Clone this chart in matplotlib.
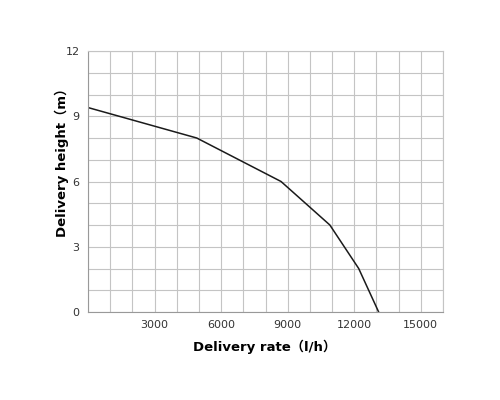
import matplotlib
matplotlib.use("Agg")
import matplotlib.pyplot as plt
from matplotlib.ticker import MultipleLocator

flow = [0, 4900, 8700, 10900, 12200, 13100]
height = [9.4, 8.0, 6.0, 4.0, 2.0, 0.0]
xticks = [3000, 6000, 9000, 12000, 15000]
yticks = [0, 3, 6, 9, 12]

fig = plt.figure(figsize=(5, 4), dpi=100)
ax = fig.add_axes([0.176, 0.22, 0.71, 0.6525])
ax.set_xlim(0, 16000)
ax.set_ylim(0, 12)
ax.xaxis.set_minor_locator(MultipleLocator(1000))
ax.yaxis.set_minor_locator(MultipleLocator(1))
ax.set_xticks(xticks)
ax.set_yticks(yticks)
ax.grid(True, which='both', color='#c4c4c4', linewidth=0.8)
ax.set_axisbelow(True)
ax.tick_params(which='both', length=0, labelsize=8, labelcolor='#333333', pad=6)
for s in ax.spines.values():
    s.set_color('#c4c4c4')
    s.set_linewidth(0.8)
ax.spines['left'].set_color('#999999')
ax.spines['bottom'].set_color('#999999')

ax.plot(flow, height, color='#1a1a1a', linewidth=1.1)

fam = ['DejaVu Sans', 'Noto Sans CJK SC']
ax.set_xlabel('Delivery rate（l/h）', fontsize=9.5, fontweight='bold', family=fam)
ax.set_ylabel('Delivery height（m）', fontsize=9.5, fontweight='bold', family=fam)
ax.xaxis.set_label_coords(0.496, -0.134)
ax.yaxis.set_label_coords(-0.073, 0.586)
ax.xaxis.label.set_va('center')
ax.yaxis.label.set_va('center')

fig.savefig('out.png', dpi=100)
